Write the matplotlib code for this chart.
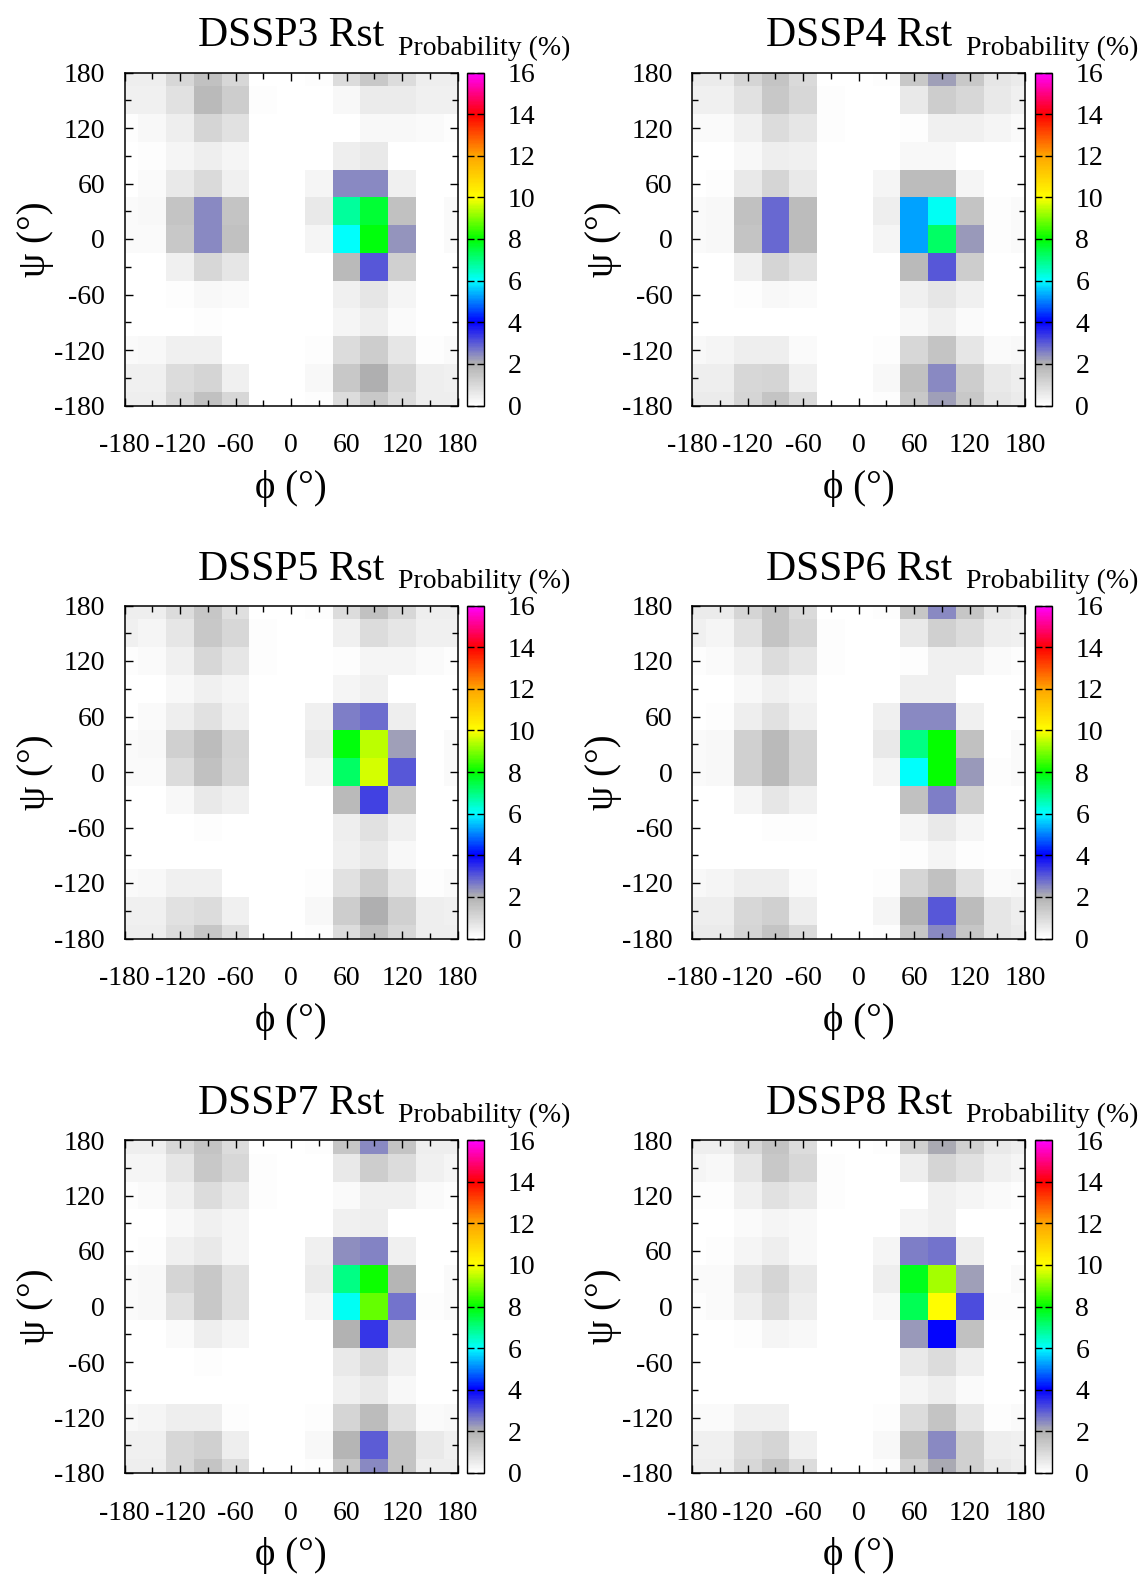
import numpy as np
import matplotlib
matplotlib.use('Agg')
import matplotlib.pyplot as plt
from matplotlib.colors import LinearSegmentedColormap

plt.rcParams['font.family'] = ['Liberation Serif', 'DejaVu Serif']
plt.rcParams['axes.unicode_minus'] = False

# Probability (%) on a 30 deg grid.
# rows top to bottom: psi = 150, 120, ..., -180 ; columns: phi = -180, -150, ..., 150
# (the psi=180 row and phi=180 column are the periodic images of the -180 ones)
titles = ['DSSP3 Rst', 'DSSP4 Rst', 'DSSP5 Rst', 'DSSP6 Rst', 'DSSP7 Rst', 'DSSP8 Rst']
angle_ticks = [-180, -120, -60, 0, 60, 120, 180]
cbar_ticks = [0, 2, 4, 6, 8, 10, 12, 14, 16]

dssp3 = [
    [0.38, 0.38, 0.78, 1.8, 1.3, 0.12, 0.02, 0.02, 0.23, 0.5, 0.5, 0.38],
    [0.12, 0.23, 0.48, 1.1, 0.78, 0.05, 0.0, 0.0, 0.05, 0.23, 0.23, 0.18],
    [0.05, 0.12, 0.28, 0.48, 0.28, 0.03, 0.0, 0.05, 0.48, 0.58, 0.05, 0.03],
    [0.05, 0.15, 0.58, 0.99, 0.43, 0.03, 0.0, 0.28, 2.45, 2.45, 0.38, 0.03],
    [0.15, 0.23, 1.5, 2.45, 1.5, 0.02, 0.0, 0.58, 6.75, 7.6, 1.6, 0.03],
    [0.15, 0.15, 1.4, 2.45, 1.6, 0.05, 0.0, 0.28, 6.0, 7.9, 2.35, 0.05],
    [0.02, 0.03, 0.38, 1.0, 0.68, 0.03, 0.0, 0.03, 1.8, 3.0, 1.2, 0.03],
    [0.01, 0.02, 0.12, 0.23, 0.18, 0.02, 0.0, 0.02, 0.38, 0.63, 0.28, 0.02],
    [0.01, 0.02, 0.05, 0.12, 0.03, 0.01, 0.0, 0.01, 0.28, 0.48, 0.18, 0.01],
    [0.15, 0.23, 0.38, 0.38, 0.05, 0.02, 0.0, 0.12, 0.89, 1.25, 0.68, 0.12],
    [0.38, 0.38, 0.89, 1.1, 0.38, 0.02, 0.0, 0.23, 1.4, 2.05, 1.1, 0.48],
    [0.48, 0.48, 1.0, 1.6, 1.0, 0.05, 0.0, 0.12, 0.9, 1.4, 0.9, 0.48],
]

dssp4 = [
    [0.38, 0.38, 0.78, 1.4, 1.0, 0.12, 0.0, 0.02, 0.58, 1.3, 1.0, 0.58],
    [0.15, 0.15, 0.38, 0.9, 0.68, 0.12, 0.0, 0.01, 0.12, 0.38, 0.38, 0.28],
    [0.03, 0.05, 0.23, 0.48, 0.38, 0.02, 0.0, 0.03, 0.23, 0.23, 0.05, 0.05],
    [0.03, 0.12, 0.58, 1.1, 0.58, 0.01, 0.0, 0.28, 1.7, 1.7, 0.28, 0.03],
    [0.15, 0.23, 1.6, 2.85, 1.7, 0.01, 0.0, 0.48, 5.25, 6.1, 1.5, 0.12],
    [0.15, 0.23, 1.5, 2.85, 1.7, 0.03, 0.0, 0.28, 5.25, 7.2, 2.3, 0.12],
    [0.02, 0.03, 0.38, 1.1, 0.78, 0.03, 0.0, 0.03, 1.8, 3.0, 1.3, 0.05],
    [0.01, 0.02, 0.12, 0.23, 0.18, 0.01, 0.0, 0.01, 0.38, 0.68, 0.38, 0.02],
    [0.01, 0.02, 0.05, 0.05, 0.03, 0.0, 0.0, 0.01, 0.23, 0.38, 0.18, 0.02],
    [0.23, 0.28, 0.48, 0.48, 0.18, 0.02, 0.0, 0.12, 1.0, 1.5, 0.68, 0.15],
    [0.48, 0.48, 1.0, 1.1, 0.38, 0.02, 0.0, 0.23, 1.6, 2.45, 1.3, 0.58],
    [0.55, 0.55, 1.1, 1.5, 0.95, 0.05, 0.0, 0.12, 1.4, 2.2, 1.4, 0.68],
]

dssp5 = [
    [0.38, 0.28, 0.68, 1.4, 1.0, 0.12, 0.0, 0.01, 0.38, 0.9, 0.68, 0.38],
    [0.12, 0.15, 0.38, 1.0, 0.68, 0.12, 0.0, 0.01, 0.12, 0.28, 0.28, 0.15],
    [0.03, 0.05, 0.23, 0.43, 0.28, 0.02, 0.0, 0.03, 0.28, 0.38, 0.02, 0.02],
    [0.03, 0.15, 0.48, 0.78, 0.38, 0.02, 0.0, 0.38, 2.6, 2.75, 0.48, 0.02],
    [0.15, 0.23, 1.2, 1.7, 1.1, 0.02, 0.0, 0.5, 7.9, 9.45, 2.2, 0.05],
    [0.15, 0.15, 0.9, 1.6, 1.0, 0.03, 0.0, 0.28, 7.2, 9.65, 3.0, 0.05],
    [0.01, 0.03, 0.23, 0.58, 0.38, 0.01, 0.0, 0.01, 1.8, 3.25, 1.4, 0.05],
    [0.01, 0.01, 0.05, 0.12, 0.05, 0.01, 0.0, 0.01, 0.48, 0.78, 0.38, 0.02],
    [0.01, 0.01, 0.05, 0.05, 0.03, 0.0, 0.0, 0.01, 0.38, 0.58, 0.23, 0.02],
    [0.15, 0.23, 0.38, 0.38, 0.05, 0.01, 0.0, 0.12, 0.78, 1.3, 0.68, 0.12],
    [0.38, 0.38, 0.78, 0.9, 0.38, 0.02, 0.0, 0.23, 1.3, 2.05, 1.2, 0.48],
    [0.48, 0.48, 0.9, 1.45, 0.85, 0.05, 0.0, 0.12, 0.9, 1.6, 1.0, 0.48],
]

dssp6 = [
    [0.38, 0.28, 0.78, 1.5, 1.1, 0.12, 0.0, 0.01, 0.58, 1.2, 0.9, 0.48],
    [0.12, 0.15, 0.38, 0.9, 0.68, 0.12, 0.0, 0.01, 0.12, 0.38, 0.38, 0.15],
    [0.03, 0.05, 0.23, 0.38, 0.28, 0.02, 0.0, 0.03, 0.38, 0.38, 0.05, 0.05],
    [0.03, 0.12, 0.48, 0.78, 0.38, 0.01, 0.0, 0.38, 2.45, 2.45, 0.38, 0.02],
    [0.15, 0.23, 1.2, 1.8, 1.1, 0.01, 0.0, 0.58, 6.95, 8.0, 1.6, 0.05],
    [0.15, 0.23, 1.2, 1.8, 1.1, 0.03, 0.0, 0.28, 6.0, 8.0, 2.3, 0.12],
    [0.01, 0.03, 0.28, 0.68, 0.38, 0.01, 0.0, 0.01, 1.6, 2.6, 1.2, 0.05],
    [0.01, 0.01, 0.05, 0.12, 0.12, 0.01, 0.0, 0.01, 0.28, 0.58, 0.28, 0.02],
    [0.01, 0.01, 0.05, 0.05, 0.03, 0.0, 0.0, 0.01, 0.12, 0.28, 0.12, 0.02],
    [0.23, 0.28, 0.48, 0.48, 0.18, 0.01, 0.0, 0.12, 1.1, 1.6, 0.78, 0.15],
    [0.48, 0.48, 1.0, 1.2, 0.48, 0.02, 0.0, 0.28, 1.9, 3.0, 1.7, 0.68],
    [0.55, 0.55, 1.1, 1.55, 0.95, 0.04, 0.0, 0.12, 1.45, 2.45, 1.45, 0.68],
]

dssp7 = [
    [0.28, 0.28, 0.68, 1.4, 1.0, 0.12, 0.0, 0.01, 0.58, 1.3, 0.9, 0.38],
    [0.12, 0.15, 0.38, 0.9, 0.58, 0.12, 0.0, 0.01, 0.15, 0.38, 0.38, 0.15],
    [0.03, 0.05, 0.23, 0.38, 0.28, 0.02, 0.0, 0.03, 0.38, 0.48, 0.05, 0.05],
    [0.03, 0.12, 0.38, 0.58, 0.28, 0.01, 0.0, 0.38, 2.4, 2.5, 0.38, 0.02],
    [0.15, 0.23, 1.1, 1.4, 0.78, 0.01, 0.0, 0.5, 6.95, 8.1, 1.9, 0.05],
    [0.15, 0.23, 0.78, 1.4, 0.78, 0.03, 0.0, 0.28, 6.1, 8.75, 2.7, 0.12],
    [0.01, 0.03, 0.18, 0.48, 0.28, 0.01, 0.0, 0.01, 1.95, 3.4, 1.5, 0.05],
    [0.01, 0.01, 0.05, 0.12, 0.05, 0.01, 0.0, 0.01, 0.58, 0.9, 0.38, 0.05],
    [0.01, 0.01, 0.05, 0.05, 0.02, 0.0, 0.0, 0.01, 0.38, 0.58, 0.23, 0.02],
    [0.23, 0.28, 0.48, 0.48, 0.12, 0.01, 0.0, 0.12, 1.1, 1.7, 0.78, 0.15],
    [0.38, 0.38, 1.0, 1.2, 0.48, 0.02, 0.0, 0.23, 1.9, 2.95, 1.5, 0.58],
    [0.48, 0.48, 1.0, 1.5, 0.9, 0.05, 0.0, 0.12, 1.45, 2.45, 1.5, 0.48],
]

dssp8 = [
    [0.28, 0.23, 0.68, 1.4, 1.0, 0.12, 0.0, 0.01, 0.48, 1.1, 0.78, 0.38],
    [0.12, 0.12, 0.38, 0.78, 0.58, 0.12, 0.0, 0.01, 0.05, 0.38, 0.28, 0.15],
    [0.03, 0.03, 0.18, 0.28, 0.23, 0.02, 0.0, 0.03, 0.28, 0.38, 0.05, 0.05],
    [0.03, 0.12, 0.28, 0.48, 0.23, 0.01, 0.0, 0.28, 2.6, 2.7, 0.48, 0.02],
    [0.15, 0.15, 0.68, 1.1, 0.58, 0.01, 0.0, 0.48, 7.8, 9.3, 2.2, 0.05],
    [0.12, 0.15, 0.48, 0.9, 0.48, 0.03, 0.0, 0.23, 7.35, 10.0, 3.15, 0.12],
    [0.01, 0.02, 0.12, 0.28, 0.23, 0.01, 0.0, 0.01, 2.3, 3.95, 1.6, 0.05],
    [0.01, 0.01, 0.05, 0.05, 0.05, 0.01, 0.0, 0.01, 0.58, 0.9, 0.48, 0.02],
    [0.01, 0.03, 0.05, 0.05, 0.02, 0.0, 0.0, 0.01, 0.28, 0.48, 0.18, 0.02],
    [0.15, 0.15, 0.38, 0.38, 0.05, 0.01, 0.0, 0.12, 0.9, 1.5, 0.68, 0.12],
    [0.38, 0.38, 0.9, 1.1, 0.38, 0.02, 0.0, 0.23, 1.6, 2.45, 1.2, 0.48],
    [0.48, 0.48, 1.0, 1.5, 0.92, 0.04, 0.0, 0.12, 1.2, 2.1, 1.2, 0.58],
]

panels = [dssp3, dssp4, dssp5, dssp6, dssp7, dssp8]

# gnuplot-like palette: white -> grey -> blue -> cyan -> green -> yellow -> orange -> red -> magenta
palette = LinearSegmentedColormap.from_list('prob', [
    (0.0, '#ffffff'), (2 / 16, '#b0b0b0'), (4 / 16, '#0000ff'), (6 / 16, '#00ffff'),
    (8 / 16, '#00ff00'), (10 / 16, '#ffff00'), (12 / 16, '#ffa500'),
    (14 / 16, '#ff0000'), (1.0, '#ff00ff')])


def periodic_grid(rows):
    """Add the psi=180 row and phi=180 column, return with psi ascending."""
    z = np.array(rows, dtype=float)
    z = np.vstack([z[-1:], z])
    z = np.hstack([z, z[:, :1]])
    return z[::-1]


W, H = 1144, 1575
fig = plt.figure(figsize=(W / 100, H / 100), dpi=100)


def box(x, y, w, h):
    return [x / W, 1 - (y + h) / H, w / W, h / H]


col_x = [124.5, 692.2]
row_y = [72.5, 605.5, 1140.0]
size = 333.0
edges = np.arange(-195, 196, 30)

for i, rows in enumerate(panels):
    x = col_x[i % 2]
    y = row_y[i // 2]
    ax = fig.add_axes(box(x, y, size, size))
    mesh = ax.pcolormesh(edges, edges, periodic_grid(rows), cmap=palette, vmin=0, vmax=16)
    ax.set_xlim(-180, 180)
    ax.set_ylim(-180, 180)
    ax.set_xticks(angle_ticks)
    ax.set_xticklabels([str(t) for t in angle_ticks])
    ax.set_yticks(angle_ticks)
    ax.set_yticklabels([str(t) for t in angle_ticks])
    ax.set_xticks(range(-150, 180, 60), minor=True)
    ax.set_yticks(range(-150, 180, 60), minor=True)
    ax.tick_params(which='both', direction='in', top=True, right=True, width=1.0, labelsize=20)
    ax.tick_params(which='major', length=6)
    ax.tick_params(which='minor', length=4)
    ax.tick_params(axis='x', which='major', pad=20)
    ax.tick_params(axis='y', which='major', pad=14)
    for s in ax.spines.values():
        s.set_linewidth(1.1)

    cax = fig.add_axes(box(x + 342.5, y, 17, size))
    cb = fig.colorbar(mesh, cax=cax, ticks=cbar_ticks)
    cb.outline.set_linewidth(1.0)
    cax.minorticks_off()
    cax.tick_params(direction='in', left=True, right=True, length=5, width=1.0,
                    labelsize=20, pad=17)

    fig.text((x + size / 2) / W, 1 - (y - 26) / H, titles[i],
             ha='center', va='baseline', fontsize=30)
    fig.text((x + 274) / W, 1 - (y - 17.5) / H, 'Probability (%)',
             ha='left', va='baseline', fontsize=20)
    fig.text((x + size / 2) / W, 1 - (y + size + 83) / H, 'ϕ (°)',
             ha='center', va='center', fontsize=28)
    fig.text((x - 89) / W, 1 - (y + size / 2) / H, 'ψ (°)', rotation=90,
             ha='center', va='center', fontsize=28)

fig.savefig('out.png', dpi=100)
